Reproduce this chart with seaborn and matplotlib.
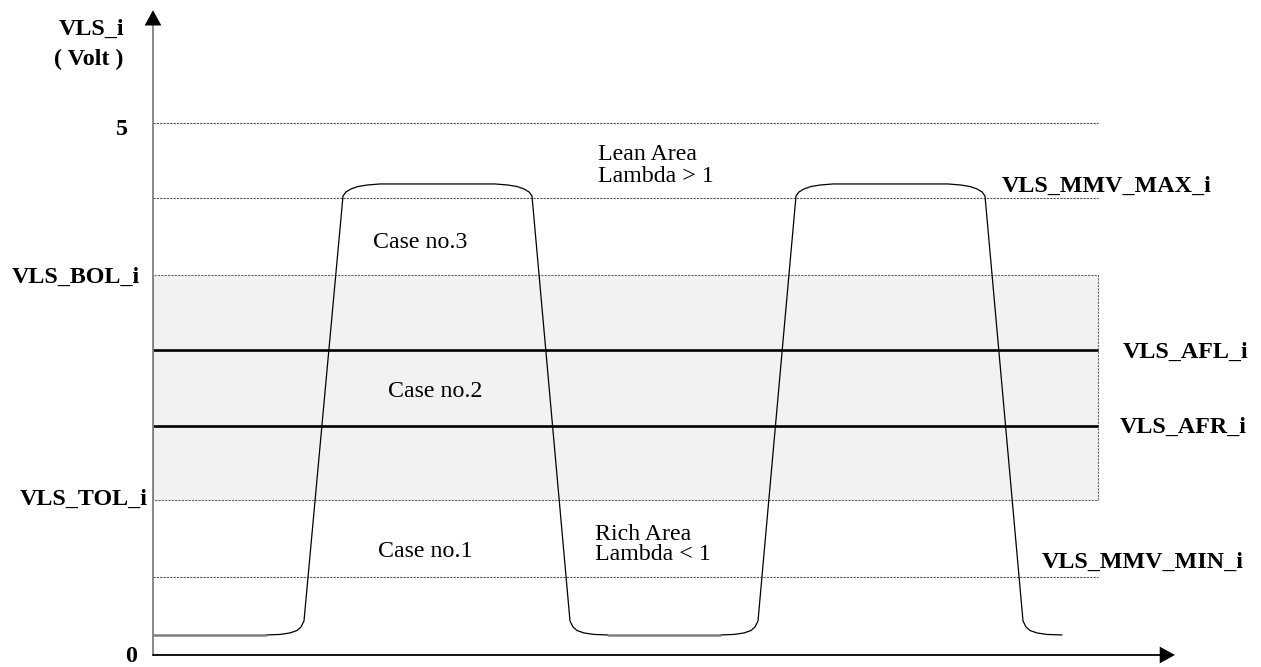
import matplotlib.pyplot as plt
import pandas as pd
import seaborn as sns

# voltage levels (Volt)
level_names = ["5", "VLS_MMV_MAX_i", "VLS_BOL_i", "VLS_AFL_i", "VLS_AFR_i", "VLS_TOL_i", "VLS_MMV_MIN_i"]
level_values = [5.0, 4.295, 3.571, 2.867, 2.152, 1.457, 0.733]
t_end = 9.45

# sensor signal (time, volt)
signal_t = [1.13, 1.27, 1.37, 1.44, 1.48, 1.51, 1.90, 1.93, 1.98, 2.05, 2.14, 2.27,
            3.42, 3.55, 3.64, 3.71, 3.76, 3.79, 4.17, 4.20, 4.24, 4.31, 4.41, 4.55]
signal_v = [0.188, 0.193, 0.207, 0.230, 0.263, 0.320, 4.314, 4.352, 4.380, 4.403, 4.417, 4.427,
            4.427, 4.417, 4.403, 4.380, 4.352, 4.314, 0.320, 0.263, 0.230, 0.207, 0.193, 0.188]
signal2_t = [5.67, 5.81, 5.91, 5.98, 6.02, 6.05, 6.43, 6.46, 6.51, 6.58, 6.67, 6.80,
             7.95, 8.08, 8.17, 8.24, 8.29, 8.32, 8.70, 8.73, 8.77, 8.84, 8.94, 9.09]
signal2_v = signal_v
flat_t = [0.0, 1.13, 4.55, 5.67]
flat_v = [0.188, 0.188, 0.188, 0.188]

sns.set_style("white")
plt.rcParams["font.family"] = ["Liberation Serif", "DejaVu Serif"]
plt.rcParams["text.color"] = "black"

fig = plt.figure(figsize=(12.61, 6.67), dpi=100)
ax = fig.add_axes([0, 0, 1, 1])
ax.set_xlim(-1.53, 11.08)
ax.set_ylim(-0.113, 6.156)
ax.axis("off")

lv = dict(zip(level_names, level_values))

# shaded tolerance band
ax.fill_between([0, t_end], lv["VLS_TOL_i"], lv["VLS_BOL_i"], facecolor="#f2f2f2",
                edgecolor="#666666", linestyle=(0, (2, 1)), linewidth=0.8)

for name in ["5", "VLS_MMV_MAX_i", "VLS_MMV_MIN_i"]:
    ax.hlines(lv[name], 0, t_end, color="#555555", linestyle=(0, (2, 1)), linewidth=0.8)
for name in ["VLS_AFL_i", "VLS_AFR_i"]:
    ax.hlines(lv[name], 0, t_end, color="black", linewidth=1.9)

# signal
df1 = pd.DataFrame({"t": signal_t, "v": signal_v})
df2 = pd.DataFrame({"t": signal2_t, "v": signal2_v})
for d in [df1, df2]:
    sns.lineplot(data=d, x="t", y="v", sort=False, estimator=None, color="black",
                 linewidth=0.9, solid_joinstyle="round", ax=ax)
for i in range(0, len(flat_t), 2):
    ax.plot(flat_t[i:i + 2], flat_v[i:i + 2], color="#808080", linewidth=1.8)

# axes with arrows
ax.plot([0, 0], [0, 5.92], color="#808080", linewidth=1.3)
ax.annotate("", xy=(0, 6.06), xytext=(0, 5.9),
            arrowprops=dict(arrowstyle="-|>,head_length=0.55,head_width=0.3", color="black",
                            lw=0, mutation_scale=20, shrinkA=0, shrinkB=0))
ax.plot([0, 10.1], [0, 0], color="black", linewidth=1.3)
ax.annotate("", xy=(10.22, 0), xytext=(10.0, 0),
            arrowprops=dict(arrowstyle="-|>,head_length=0.55,head_width=0.3", color="black",
                            lw=0, mutation_scale=20, shrinkA=0, shrinkB=0))

bold = dict(fontsize=17.3, fontweight="bold", ha="left", va="baseline", color="black")
norm = dict(fontsize=17.2, ha="left", va="baseline", color="black")

ax.text(-0.94, 5.827, "VLS_i", **bold)
ax.text(-0.99, 5.545, "( Volt )", **bold)
ax.text(-0.37, 4.887, "5", **bold)
ax.text(-1.41, 3.496, "VLS_BOL_i", **bold)
ax.text(-1.33, 1.410, "VLS_TOL_i", **bold)
ax.text(-0.28, -0.07, "0", **bold)
ax.text(8.49, 4.352, "VLS_MMV_MAX_i", **bold)
ax.text(9.70, 2.791, "VLS_AFL_i", **bold)
ax.text(9.67, 2.086, "VLS_AFR_i", **bold)
ax.text(8.89, 0.818, "VLS_MMV_MIN_i", **bold)

ax.text(4.45, 4.652, "Lean Area", **norm)
ax.text(4.45, 4.445, "Lambda > 1", **norm)
ax.text(2.20, 3.825, "Case no.3", **norm)
ax.text(2.35, 2.425, "Case no.2", **norm)
ax.text(2.25, 0.921, "Case no.1", **norm)
ax.text(4.42, 1.081, "Rich Area", **norm)
ax.text(4.42, 0.893, "Lambda < 1", **norm)

plt.savefig("out.png", dpi=100)
